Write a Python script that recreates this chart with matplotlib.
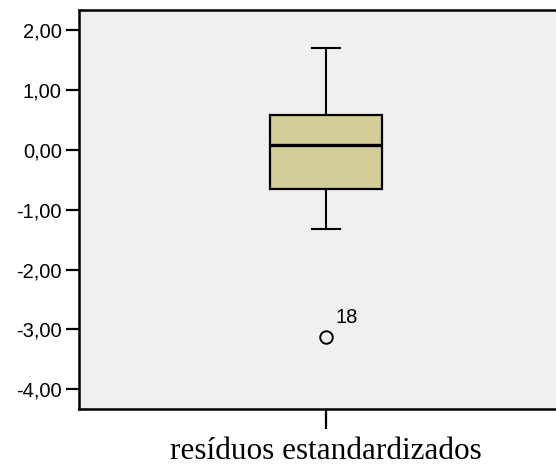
import matplotlib
matplotlib.use("Agg")
import matplotlib.pyplot as plt

# box summary for the standardized residuals
variavel = "resíduos estandardizados"
q1 = -0.657
mediana = 0.078
q3 = 0.585
bigode_inf = -1.326
bigode_sup = 1.70
outliers = [-3.13]
outlier_ids = ["18"]
yticks = [2, 1, 0, -1, -2, -3, -4]

fig = plt.figure(figsize=(5.56, 4.67), dpi=100)
fig.patch.set_facecolor("white")
# axes runs past the right edge of the figure
ax = fig.add_axes([79/556, 58/467, 494/556, 399/467])
ax.set_facecolor("#f0f0f0")

stats = [dict(med=mediana, q1=q1, q3=q3, whislo=bigode_inf, whishi=bigode_sup,
              fliers=outliers, label=variavel)]
ax.bxp(stats, positions=[1], widths=0.453, patch_artist=True,
       boxprops=dict(facecolor="#d3ce98", edgecolor="black", linewidth=1.6),
       medianprops=dict(color="black", linewidth=2.4),
       whiskerprops=dict(color="black", linewidth=1.5),
       capprops=dict(color="black", linewidth=1.5),
       capwidths=0.115,
       flierprops=dict(marker="o", markerfacecolor="none", markeredgecolor="black",
                       markersize=9, markeredgewidth=1.4))

for v, lab in zip(outliers, outlier_ids):
    ax.annotate(lab, (1, v), xytext=(7, 10), textcoords="offset points",
                fontsize=14.5, family="Liberation Sans")

ax.set_xlim(0, 2)
ax.set_ylim(-4.334, 2.343)
ax.set_yticks(yticks)
ax.set_yticklabels([("%.2f" % t).replace(".", ",") for t in yticks],
                   fontsize=14.5, family="Liberation Sans")
ax.set_xticks([1])
ax.set_xticklabels([variavel], fontsize=22.5, family="Liberation Serif")
ax.tick_params(axis="y", length=9.5, width=1.6, pad=3)
ax.tick_params(axis="x", length=14.5, width=1.6, pad=6)

for s in ["left", "top", "bottom"]:
    ax.spines[s].set_linewidth(1.8)
ax.spines["right"].set_visible(False)

fig.savefig("out.png", dpi=100)
